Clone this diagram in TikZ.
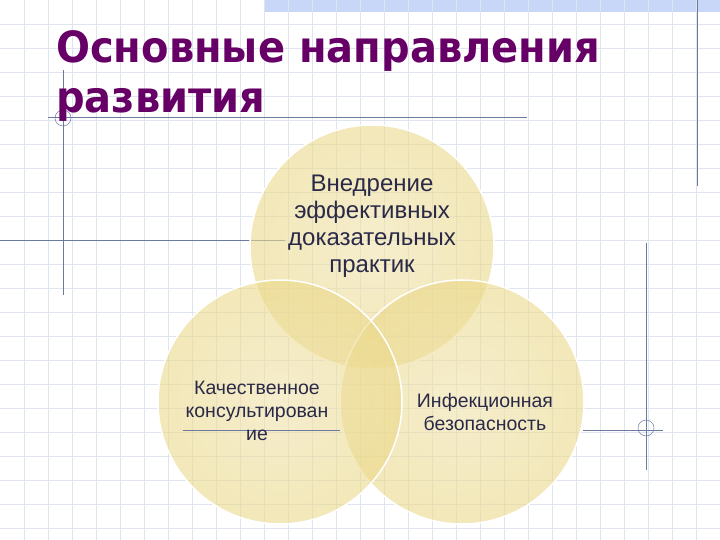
\documentclass[tikz,border=0pt]{standalone}
\usepackage{fontspec}
\usepackage{tikz}
\setmainfont{Liberation Sans}
\newfontfamily\titlefont[FakeStretch=0.93]{DejaVu Sans}
\definecolor{slidegrid}{HTML}{DFE4EE}
\definecolor{slideband}{HTML}{C8D7F7}
\definecolor{slideline}{HTML}{6A7AA0}
\definecolor{titlepurple}{HTML}{660066}
\definecolor{vennedge}{HTML}{EBD98A}
\definecolor{venncore}{HTML}{F0E2AC}
\definecolor{venntext}{HTML}{2A2A48}
\usetikzlibrary{positioning}

\begin{document}
\begin{tikzpicture}[x=1pt,y=-1pt]
    \tikzstyle{every node}=[font=\fontsize{19.5}{23}\selectfont, text=venntext, align=center]
    \tikzstyle{guide} = [draw=slideline, line width=0.8pt]
    \tikzstyle{marker} = [draw=slideline, line width=0.5pt]
    \tikzstyle{venn} = [circle, minimum size=244pt, inner sep=0pt, draw=white, line width=1.5pt,
                        inner color=venncore, outer color=vennedge, fill opacity=0.6]

    \useasboundingbox (0,0) rectangle (720,540);
    \fill[white] (0,0) rectangle (720,540);
    \fill[slideband] (265,0) rectangle (720,12);
    % background grid
    \foreach \gx in {24,48,...,696} \draw[slidegrid, line width=0.6pt] (\gx,0) -- (\gx,540);
    \foreach \gy in {24,48,...,528} \draw[slidegrid, line width=0.6pt] (0,\gy) -- (720,\gy);

    % guide lines
    \draw[guide] (697,0) -- (697,186);
    \draw[guide] (48,117) -- (527,117);
    \draw[guide] (63,70) -- (63,295);
    \draw[marker] (63,118) circle (8);
    \draw[guide] (0,240) -- (285,240);
    \draw[guide] (646,243) -- (646,470);
    \draw[marker] (646,428) circle (8);

    % venn circles
    \node[venn] (topc) at (372,247) {};
    \node[venn] (rightc) at (462,402) {};
    \node[venn] (leftc) at (280,402) {};

    \draw[guide] (183,430) -- (340,430);
    \draw[guide] (583,430) -- (663,430);

    \node[font=\fontsize{24}{27}\selectfont] (toptext) at (372,226) {Внедрение\\эффективных\\доказательных\\практик};
    \node (lefttext) at (257,411) {Качественное\\консультирован\\ие};
    \node (righttext) at (485,412) {Инфекционная\\безопасность};

    \node[anchor=north west, inner sep=0pt, align=left, text=titlepurple,
          font=\titlefont\bfseries\fontsize{43}{50}\selectfont] (title) at (56,30) {Основные направления\\развития};
\end{tikzpicture}
\end{document}
